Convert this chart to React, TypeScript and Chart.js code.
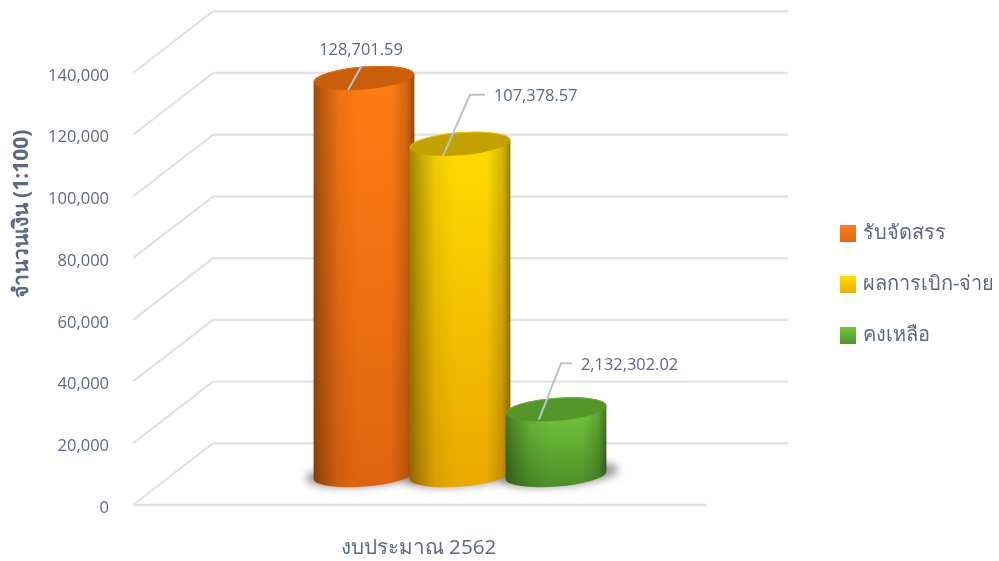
import React, { useEffect, useRef } from "react";
import { Chart, registerables } from "chart.js";

Chart.register(...registerables);

const categories = ["งบประมาณ 2562"];
const seriesNames = ["รับจัดสรร", "ผลการเบิก-จ่าย", "คงเหลือ"];
const seriesValues = [128701.59, 107378.57, 21323.02];
const valueLabels = ["128,701.59", "107,378.57", "2,132,302.02"];
const yAxisTitle = "จำนวนเงิน (1:100)";

const topColors = ["#ff7c14", "#ffdb00", "#74c53c"];
const bottomColors = ["#e0640f", "#eaa800", "#4c8f28"];
const capColors = ["#c95f0b", "#c2a200", "#54962a"];
const legendTops = [226, 277, 328];
const leaders = [
  { ax: -16, ay: 12, ex: -2.5, ey: -12, hx: 0, tx: -3, ty: -27.5, align: "center" },
  { ax: -17, ay: 12, ex: 10, ey: -49, hx: 15, tx: 24, ty: -47, align: "left" },
  { ax: -17, ay: 10, ex: 5, ey: -46, hx: 11, tx: 20, ty: -44.5, align: "left" },
];

const TEXT = "#5a6a84";
const FONT = "'Open Sans','Noto Sans',sans-serif";
const DEPTH_X = 80;
const DEPTH_Y = 61.7;

const cylinderPlugin = {
  id: "cylinder3d",
  afterLayout(chart: any) {
    const lg = chart.legend;
    lg.left = 812;
    lg.right = 999;
    lg.width = 187;
    lg.top = 192.5;
    lg.bottom = 402;
    lg.height = 210;
  },
  beforeDatasetsDraw(chart: any) {
    const { ctx, chartArea, scales } = chart;
    const y = scales.y;
    ctx.save();
    // y axis title
    ctx.save();
    ctx.translate(22, 214);
    ctx.rotate(-Math.PI / 2);
    ctx.font = `bold 21px ${FONT}`;
    ctx.fillStyle = TEXT;
    ctx.textAlign = "center";
    ctx.textBaseline = "middle";
    ctx.fillText(yAxisTitle, 0, 0);
    ctx.restore();
    // walls and floor
    y.ticks.forEach((t: any) => {
      const py = y.getPixelForValue(t.value);
      ctx.strokeStyle = "#e0e0e0";
      ctx.lineWidth = 2;
      ctx.beginPath();
      ctx.moveTo(chartArea.left, py);
      ctx.lineTo(chartArea.left + DEPTH_X, py - DEPTH_Y);
      ctx.stroke();
      ctx.strokeStyle = "#e4e4ec";
      ctx.lineWidth = 2.5;
      ctx.beginPath();
      ctx.moveTo(chartArea.left + DEPTH_X, py - DEPTH_Y);
      ctx.lineTo(chartArea.right + DEPTH_X + 1, py - DEPTH_Y);
      ctx.stroke();
    });
    ctx.strokeStyle = "#e4e4e8";
    ctx.lineWidth = 2.5;
    ctx.beginPath();
    ctx.moveTo(chartArea.left, chartArea.bottom);
    ctx.lineTo(chartArea.right, chartArea.bottom);
    ctx.stroke();
    ctx.restore();

    // cylinders
    const bars = chart.data.datasets.map((_: any, i: number) => chart.getDatasetMeta(i).data[0]);
    const ry = 11.5;
    const rot = (-4.5 * Math.PI) / 180;
    const midX = DEPTH_X / 2;
    const midY = DEPTH_Y / 2 - 1;
    ctx.save();
    ctx.filter = "blur(4px)";
    ctx.fillStyle = "rgba(110,110,110,0.75)";
    bars.forEach((b: any) => {
      ctx.beginPath();
      ctx.ellipse(b.x + midX + 2, b.base - midY - 1, b.width / 2 + 10, ry + 0.5, rot, 0, Math.PI * 2);
      ctx.fill();
    });
    ctx.restore();

    bars.forEach((b: any, i: number) => {
      const cx = b.x + midX;
      const rx = b.width / 2;
      const ty = b.y - midY;
      const by = b.base - midY;
      const ex = rx * Math.cos(rot);
      const ey = rx * Math.sin(rot);
      const path = () => {
        ctx.beginPath();
        ctx.moveTo(cx - ex, ty - ey);
        ctx.lineTo(cx - ex, by - ey);
        ctx.ellipse(cx, by, rx, ry, rot, Math.PI, 0, true);
        ctx.lineTo(cx + ex, ty + ey);
        ctx.ellipse(cx, ty, rx, ry, rot, 0, Math.PI, true);
        ctx.closePath();
      };
      const v = ctx.createLinearGradient(0, ty, 0, by + ry);
      v.addColorStop(0, topColors[i]);
      v.addColorStop(1, bottomColors[i]);
      path();
      ctx.fillStyle = v;
      ctx.fill();
      const h = ctx.createLinearGradient(cx - rx, 0, cx + rx, 0);
      h.addColorStop(0, "rgba(0,0,0,0.40)");
      h.addColorStop(0.08, "rgba(0,0,0,0.27)");
      h.addColorStop(0.25, "rgba(0,0,0,0.07)");
      h.addColorStop(0.45, "rgba(0,0,0,0)");
      h.addColorStop(0.76, "rgba(0,0,0,0)");
      h.addColorStop(0.92, "rgba(0,0,0,0.17)");
      h.addColorStop(1, "rgba(0,0,0,0.42)");
      path();
      ctx.fillStyle = h;
      ctx.fill();
      ctx.beginPath();
      ctx.ellipse(cx, ty, rx, ry, rot, 0, Math.PI * 2);
      ctx.fillStyle = capColors[i];
      ctx.fill();
      ctx.beginPath();
      ctx.ellipse(cx, ty, rx - 0.5, ry - 0.5, rot, Math.PI, Math.PI * 2);
      ctx.strokeStyle = topColors[i] + "88";
      ctx.lineWidth = 1;
      ctx.stroke();
    });

    // value labels and leaders
    ctx.save();
    bars.forEach((b: any, i: number) => {
      const l = leaders[i];
      const cx = b.x + midX;
      const ty = b.y - midY;
      ctx.strokeStyle = "#b9c2d2";
      ctx.lineWidth = 2;
      ctx.beginPath();
      ctx.moveTo(cx + l.ax, ty + l.ay);
      ctx.lineTo(cx + l.ex, ty + l.ey);
      if (l.hx) ctx.lineTo(cx + l.ex + l.hx, ty + l.ey);
      ctx.stroke();
      ctx.font = `16.4px ${FONT}`;
      ctx.fillStyle = TEXT;
      ctx.textAlign = l.align;
      ctx.textBaseline = "middle";
      ctx.fillText(valueLabels[i], cx + (l.align === "left" ? l.ex + l.tx : l.tx), ty + l.ty);
    });
    ctx.restore();
    return undefined;
  },
  beforeDatasetDraw() {
    return false;
  },
};

export default function App() {
  const ref = useRef<HTMLCanvasElement>(null);
  useEffect(() => {
    const canvas = ref.current!;
    const chart = new Chart(canvas, {
      type: "bar",
      data: {
        labels: categories,
        datasets: seriesNames.map((name, i) => ({
          label: name,
          data: [seriesValues[i]],
          backgroundColor: topColors[i],
          categoryPercentage: 0.5017,
          barPercentage: 1.052,
        })),
      },
      options: {
        responsive: false,
        animation: false,
        layout: { padding: { top: 73, right: 292, bottom: 0, left: 0 } },
        plugins: {
          tooltip: { enabled: false },
          title: { display: false },
          legend: {
            position: "chartArea",
            align: "start",
            labels: {
              color: TEXT,
              font: { family: FONT, size: 20 },
              boxWidth: 10,
              boxHeight: 11,
              padding: 31,
              generateLabels(c: any) {
                return c.data.datasets.map((d: any, i: number) => {
                  const g = c.ctx.createLinearGradient(0, legendTops[i], 0, legendTops[i] + 17);
                  g.addColorStop(0, topColors[i]);
                  g.addColorStop(1, bottomColors[i]);
                  return { text: d.label, fillStyle: g, strokeStyle: g, lineWidth: 6, datasetIndex: i, fontColor: TEXT };
                });
              },
            },
          },
        },
        scales: {
          x: {
            grid: { display: false, drawTicks: false },
            border: { display: false },
            ticks: { color: TEXT, font: { family: FONT, size: 20.6 }, padding: 31, labelOffset: -1.5 },
            afterFit(s: any) { s.height = 56; },
          },
          y: {
            min: 0,
            max: 140000,
            grid: { display: false, drawTicks: false },
            border: { display: false },
            ticks: {
              stepSize: 20000,
              color: TEXT,
              font: { family: FONT, size: 16.5 },
              padding: 24,
              labelOffset: 3,
              callback: (v: any) => Number(v).toLocaleString("en-US"),
            },
            afterFit(s: any) { s.width = 133; },
          },
        },
      },
      plugins: [cylinderPlugin],
    } as any);
    return () => chart.destroy();
  }, []);
  return (
    <div style={{ position: "fixed", left: 0, top: 0, width: 999, height: 561, background: "#fff" }}>
      <canvas ref={ref} width={999} height={561} style={{ display: "block" }} />
    </div>
  );
}
